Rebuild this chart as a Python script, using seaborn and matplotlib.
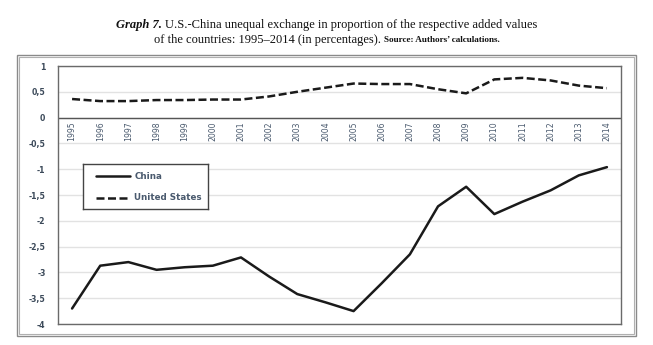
import matplotlib
matplotlib.use("Agg")
import matplotlib.pyplot as plt
import seaborn as sns
import pandas as pd
from matplotlib.patches import Rectangle

years = list(range(1995, 2015))
china = [-3.70, -2.87, -2.80, -2.95, -2.90, -2.87, -2.71, -3.08, -3.42, -3.58,
         -3.75, -3.21, -2.65, -1.72, -1.34, -1.87, -1.63, -1.41, -1.12, -0.96]
united_states = [0.36, 0.32, 0.32, 0.34, 0.34, 0.35, 0.35, 0.41, 0.50, 0.58,
                 0.66, 0.65, 0.65, 0.55, 0.47, 0.74, 0.77, 0.72, 0.62, 0.57]
y_ticks = [1, 0.5, 0, -0.5, -1, -1.5, -2, -2.5, -3, -3.5, -4]

df = pd.DataFrame({
    "year": years * 2,
    "value": china + united_states,
    "country": ["China"] * len(years) + ["United States"] * len(years),
})

sns.set_theme(style="white")
plt.rcParams["font.family"] = ["DejaVu Sans"]

fig = plt.figure(figsize=(6.53, 3.45), dpi=100)
ax = fig.add_axes([58 / 653, 1 - 324 / 345, (621 - 58) / 653, (324 - 66) / 345])

sns.lineplot(data=df, x="year", y="value", hue="country", style="country",
             palette={"China": "#1a1a1a", "United States": "#1a1a1a"},
             dashes={"China": "", "United States": (3.2, 1.4)},
             linewidth=1.8, ax=ax, legend=False)

ax.set_xlim(1994.5, 2014.5)
ax.set_ylim(-4, 1)
ax.set_yticks(y_ticks)
ax.set_yticklabels([f"{t:g}".replace(".", ",") for t in y_ticks],
                   fontsize=5.6, fontweight="bold", color="#3c4a5a")
ax.tick_params(axis="y", length=0, pad=9)
ax.set_xticks([])
ax.set_xlabel("")
ax.set_ylabel("")
ax.grid(axis="y", color="#e2e2e2", linewidth=1.0)
ax.set_axisbelow(True)
ax.axhline(0, color="#555555", linewidth=1.0, zorder=1)
for sp in ax.spines.values():
    sp.set_color("#6a6a6a")
    sp.set_linewidth(1.0)

# year labels sit just under the zero line
for yr in years:
    ax.text(yr, -0.07, str(yr), rotation=90, ha="center", va="top",
            fontsize=5.6, color="#4a5a6e")

# legend box
leg_ax = fig.add_axes([83 / 653, 1 - 209 / 345, (208 - 83) / 653, (209 - 164) / 345])
leg_ax.set_xlim(0, 1)
leg_ax.set_ylim(0, 1)
leg_ax.set_xticks([])
leg_ax.set_yticks([])
leg_ax.set_facecolor("white")
for sp in leg_ax.spines.values():
    sp.set_color("#444444")
    sp.set_linewidth(1.0)
leg_ax.plot([0.1, 0.375], [0.73, 0.73], color="#1a1a1a", linewidth=1.8)
leg_ax.plot([0.1, 0.375], [0.25, 0.25], color="#1a1a1a", linewidth=1.8, dashes=(3.2, 1.4))
leg_ax.text(0.41, 0.73, "China", va="center", ha="left", fontsize=6.3,
            fontweight="bold", color="#4a5a6e")
leg_ax.text(0.41, 0.25, "United States", va="center", ha="left", fontsize=6.3,
            fontweight="bold", color="#4a5a6e")

# double outer frame
fig.patches.append(Rectangle((17 / 653, 1 - 336 / 345), (636 - 17) / 653, (336 - 55) / 345,
                             transform=fig.transFigure, fill=False,
                             edgecolor="#8a8a8a", linewidth=1.0))
fig.patches.append(Rectangle((19 / 653, 1 - 334 / 345), (634 - 19) / 653, (334 - 57) / 345,
                             transform=fig.transFigure, fill=False,
                             edgecolor="#b0b0b0", linewidth=0.8))

# title, built from pieces laid end to end and centred per line
serif = ["Liberation Serif", "DejaVu Serif"]
renderer = fig.canvas.get_renderer()


def title_line(pieces, y):
    texts = []
    for s, kw in pieces:
        texts.append(fig.text(0, y, s, ha="left", va="center", family=serif,
                              color="#111111", **kw))
    widths = [t.get_window_extent(renderer).width for t in texts]
    total = sum(widths)
    x = (fig.bbox.width - total) / 2
    for t, w in zip(texts, widths):
        t.set_x(x / fig.bbox.width)
        x += w


title_line([("Graph 7. ", dict(fontsize=9.0, fontweight="bold", style="italic")),
            ("U.S.-China unequal exchange in proportion of the respective added values",
             dict(fontsize=9.0))], 1 - 25 / 345)
title_line([("of the countries: 1995\u20132014 (in percentages). ", dict(fontsize=9.0)),
            ("Source: Authors\u2019 calculations.", dict(fontsize=6.6, fontweight="bold"))],
           1 - 40 / 345)

fig.savefig("out.png", dpi=100)
